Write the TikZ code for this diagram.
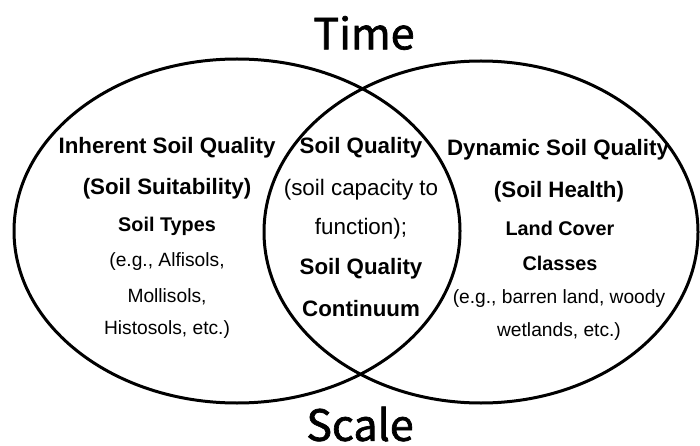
\documentclass[tikz,border=0pt]{standalone}
\usepackage{fontspec}
\setmainfont{Liberation Sans}
\newfontfamily\titlefont{Noto Sans CJK JP}[FakeBold=1.6]
\begin{document}
\begin{tikzpicture}[x=1pt,y=-1pt,
  ring/.style={draw=black,line width=3pt},
  head/.style={font=\fontsize{22.3}{24}\selectfont\bfseries,inner sep=0pt},
  sub/.style={font=\fontsize{19.8}{22}\selectfont\bfseries,inner sep=0pt},
  body/.style={font=\fontsize{19.2}{22}\selectfont,inner sep=0pt},
  midbody/.style={font=\fontsize{22.4}{24}\selectfont,inner sep=0pt},
  axis/.style={font=\titlefont\fontsize{43}{46}\selectfont,inner sep=0pt}]
\useasboundingbox (0,0) rectangle (700,446);
\draw[ring] (237,231) ellipse [x radius=223, y radius=172];
\draw[ring] (481,232) ellipse [x radius=217, y radius=171];
\node[axis] (time) at (364,33) {Time};
\node[axis] (scale) at (360,424) {Scale};
% left
\node[head] (l1) at (167,148) {Inherent Soil Quality};
\node[head] (l2) at (167,189) {(Soil Suitability)};
\node[sub] (l3) at (167,226) {Soil Types};
\node[body] (l4) at (167,262) {(e.g., Alfisols,};
\node[body] (l5) at (167,297) {Mollisols,};
\node[body] (l6) at (167,330) {Histosols, etc.)};
% middle
\node[head] (m1) at (361,148) {Soil Quality};
\node[midbody] (m2) at (361,190) {(soil capacity to};
\node[midbody] (m3) at (361,229) {function);};
\node[head] (m4) at (361,269) {Soil Quality};
\node[head] (m5) at (361,309) {Continuum};
% right
\node[head] (r1) at (558,150) {Dynamic Soil Quality};
\node[head] (r2) at (559,192) {(Soil Health)};
\node[sub] (r3) at (560,228) {Land Cover};
\node[sub] (r4) at (560,263) {Classes};
\node[body] (r5) at (559,299) {(e.g., barren land, woody};
\node[body] (r6) at (559,332) {wetlands, etc.)};
\end{tikzpicture}
\end{document}
